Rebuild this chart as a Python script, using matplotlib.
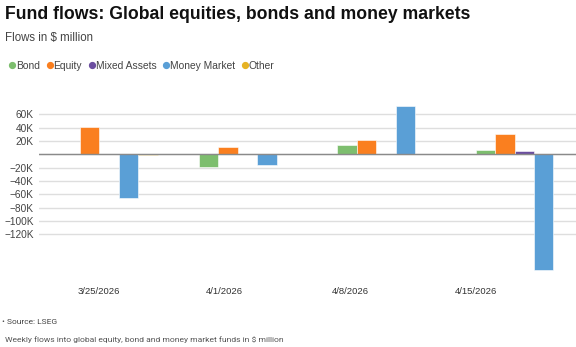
import numpy as np
import matplotlib
matplotlib.use("Agg")
import matplotlib.pyplot as plt
from matplotlib.lines import Line2D

plt.rcParams['font.family'] = ['Liberation Sans', 'DejaVu Sans']

# weekly flows, $ million
weeks = ['3/25/2026', '4/1/2026', '4/8/2026', '4/15/2026']
series = ['Bond', 'Equity', 'Mixed Assets', 'Money Market', 'Other']
bond = [500, -19500, 13500, 6500]
equity = [40500, 11000, 22000, 30500]
mixed = [200, 200, 500, 4500]
money = [-65000, -15500, 72500, -174000]
other = [-1500, 200, 300, 0]
colors = ['#7dbe6e', '#fa7f1f', '#6b4e9f', '#5a9fd6', '#e6b325']

values = [bond, equity, mixed, money, other]
yticks = [-120000, -100000, -80000, -60000, -40000, -20000, 0, 20000, 40000, 60000]

fig = plt.figure(figsize=(5.76, 3.47), dpi=100)
ax = fig.add_axes([0.068, 0.217, 0.932, 0.484])

x = np.arange(len(weeks))
w = 0.14
for i, (name, vals) in enumerate(zip(series, values)):
    ax.bar(x + (i - 2) * w, vals, width=w, color=colors[i],
           edgecolor='white', linewidth=0.4, zorder=3)

ax.set_xlim(-0.506, 3.374)
ax.set_ylim(-176000, 76000)
ax.set_yticks(yticks)
ax.set_yticklabels(['' if v == 0 else f'{v // 1000}K'.replace('-', '\u2212') for v in yticks])
ax.grid(axis='y', color='#dedede', linewidth=1, zorder=0)
ax.axhline(0, color='#8a8a8a', linewidth=1, zorder=4)

# category labels sit on a slightly narrower spacing than the bar groups
ax.set_xticks(x * 0.91 - 0.076)
ax.set_xticklabels(weeks)
ax.tick_params(axis='x', length=0, pad=11, labelsize=6.8, labelcolor='#333333')
ax.tick_params(axis='y', length=0, pad=4, labelsize=7.3, labelcolor='#444444')
for s in ax.spines.values():
    s.set_visible(False)

fig.text(0.009, 0.944, 'Fund flows: Global equities, bonds and money markets',
         fontsize=12.7, fontweight='bold', color='#111111', va='baseline')
fig.text(0.009, 0.881, 'Flows in $ million', fontsize=8.3, color='#444444', va='baseline')

handles = [Line2D([], [], marker='o', linestyle='none', markersize=4.2,
                  color=c) for c in colors]
fig.legend(handles, series, loc='center left', bbox_to_anchor=(0.0175, 0.811),
           ncol=5, frameon=False, fontsize=7.4, handlelength=0.4,
           handletextpad=0.15, columnspacing=0.78, labelcolor='#444444',
           borderaxespad=0, borderpad=0)

fig.text(0.003, 0.071, '\u2022 Source: LSEG', fontsize=6, color='#444444',
         va='center', family=['Roboto', 'DejaVu Sans'])
fig.text(0.008, 0.022, 'Weekly flows into global equity, bond and money market funds in $ million',
         fontsize=6.1, color='#555555', va='center', family=['Roboto', 'DejaVu Sans'])

fig.savefig('out.png', dpi=100)
